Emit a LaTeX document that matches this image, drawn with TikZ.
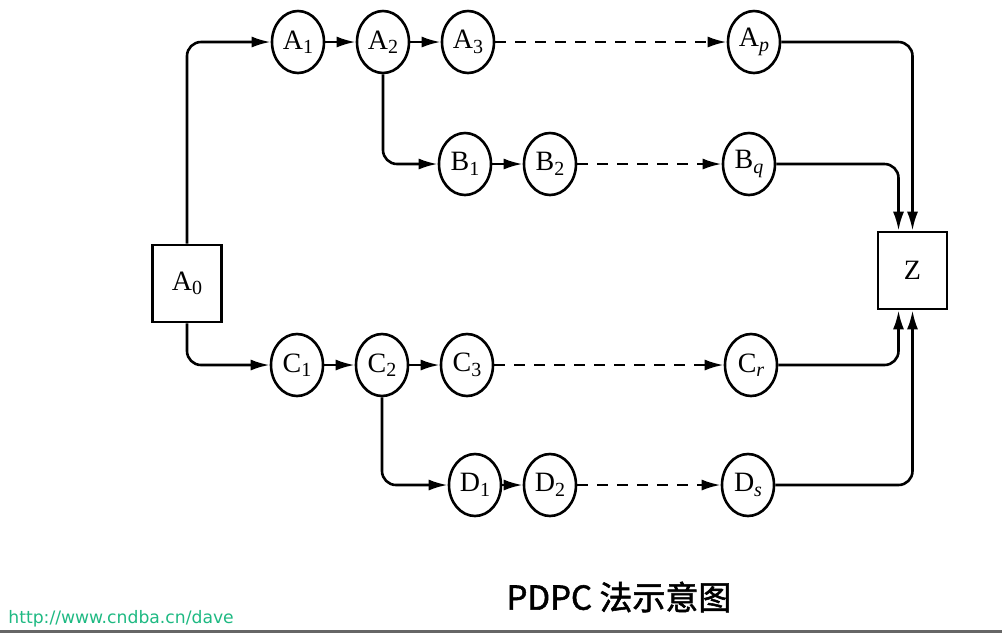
\documentclass[tikz,border=0pt]{standalone}
\usepackage{fontspec}
\setmainfont{Liberation Serif}
\newfontfamily\cjkfont[FakeBold=1.6]{Noto Sans CJK SC}
\newfontfamily\urlfont{DejaVu Sans}
\usetikzlibrary{shapes.geometric, arrows.meta}
\definecolor{urlgreen}{RGB}{30,185,130}
\newcommand{\lowidx}[1]{\raisebox{-0.35ex}{\fontsize{10}{12}\selectfont #1}}
\tikzstyle{state} = [ellipse, draw=black, line width=1.3pt, minimum width=26pt, minimum height=31pt, inner sep=0pt, font=\fontsize{14}{16}\selectfont]
\tikzstyle{block} = [rectangle, draw=black, line width=1.3pt, minimum width=34.5pt, minimum height=38.5pt, font=\fontsize{14}{16}\selectfont]
\tikzstyle{arrow} = [line width=1.3pt, ->, >={Latex[length=9.5pt,width=5.5pt]}, rounded corners=7pt]
\tikzstyle{dasharrow} = [arrow, dash pattern=on 5.5pt off 4.5pt]
\tikzstyle{rule} = [line width=1.5pt, draw=black!60]

\begin{document}
\begin{tikzpicture}[x=1pt, y=1pt, node distance=42.5pt]
\useasboundingbox (0,0) rectangle (501,-317);

\node (A0) [block] at (93.5,-141.75) {A\lowidx{0}};
\node (Z) [block] at (456.25,-135.25) {Z};

\node (A1) [state] at (149,-21) {A\lowidx{1}};
\node (A2) [state, right of=A1] {A\lowidx{2}};
\node (A3) [state, right of=A2] {A\lowidx{3}};
\node (Ap) [state, right of=A3, xshift=100.5pt] {A\lowidx{\itshape p}};

\node (B1) [state] at (232.5,-82) {B\lowidx{1}};
\node (B2) [state, right of=B1] {B\lowidx{2}};
\node (Bq) [state, right of=B2, xshift=57pt] {B\lowidx{\itshape q}};

\node (C1) [state] at (148.5,-182.5) {C\lowidx{1}};
\node (C2) [state, right of=C1] {C\lowidx{2}};
\node (C3) [state, right of=C2] {C\lowidx{3}};
\node (Cr) [state, right of=C3, xshift=99.5pt] {C\lowidx{\itshape r}};

\node (D1) [state] at (237.5,-242.5) {D\lowidx{1}};
\node (D2) [state, right of=D1, xshift=-5pt] {D\lowidx{2}};
\node (Ds) [state, right of=D2, xshift=56.5pt] {D\lowidx{\itshape s}};

\node (title) at (309.5,-298.5) {\cjkfont\fontsize{16.5}{18}\selectfont PDPC 法示意图};
\node (url) [anchor=base west, inner sep=0pt, text=urlgreen] at (4,-311.5) {\urlfont\fontsize{8.6}{10}\selectfont http://www.cndba.cn/dave};

\draw [arrow] (A0) |- (A1);
\draw [arrow] (A0) |- (C1);
\draw [arrow] (A1) -- (A2);
\draw [arrow] (A2) -- (A3);
\draw [dasharrow] (A3) -- (Ap);
\draw [arrow] (A2) |- (B1);
\draw [arrow] (B1) -- (B2);
\draw [dasharrow] (B2) -- (Bq);
\draw [arrow] (C1) -- (C2);
\draw [arrow] (C2) -- (C3);
\draw [dasharrow] (C3) -- (Cr);
\draw [arrow] (C2) |- (D1);
\draw [arrow] (D1) -- (D2);
\draw [dasharrow] (D2) -- (Ds);
\draw [arrow] (Ap) -| (Z.north);
\draw [arrow] (Bq) -| ([xshift=-7pt]Z.north);
\draw [arrow] (Cr) -| ([xshift=-7pt]Z.south);
\draw [arrow] (Ds) -| (Z.south);

\draw [rule] (0,-315.75) -- (501,-315.75);

\end{tikzpicture}
\end{document}
